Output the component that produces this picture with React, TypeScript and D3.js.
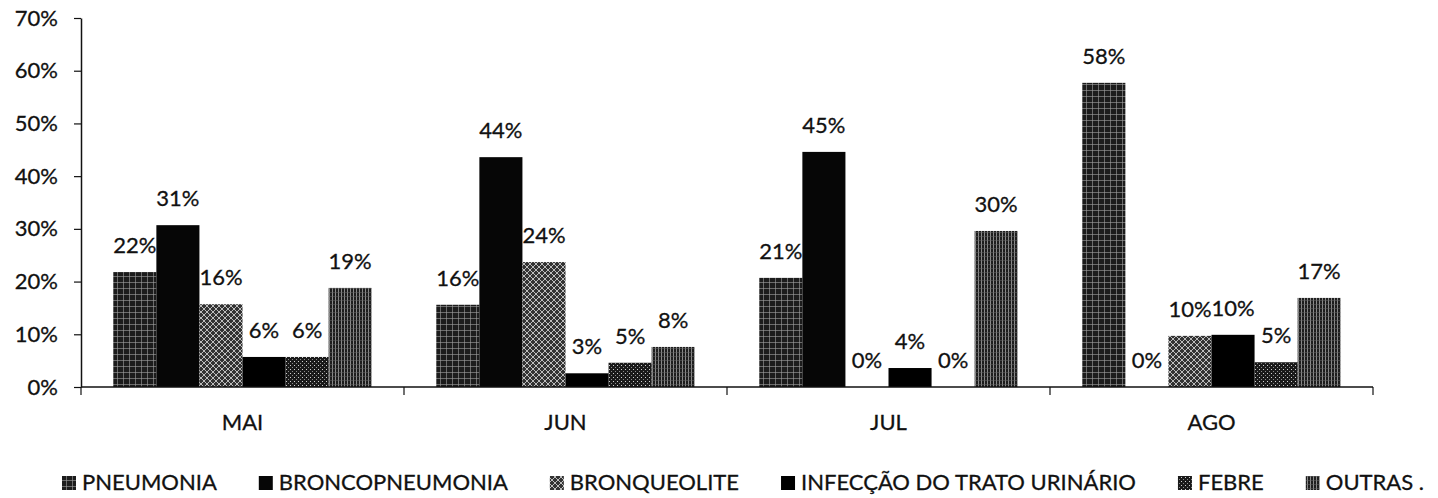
import React, { useEffect, useRef } from 'react';
import * as d3 from 'd3';

const WIDTH = 1438;
const HEIGHT = 498;
const FONT = 'Lato, "Open Sans", sans-serif';

const months = ['MAI', 'JUN', 'JUL', 'AGO'];
const seriesNames = [
  'PNEUMONIA',
  'BRONCOPNEUMONIA',
  'BRONQUEOLITE',
  'INFECÇÃO DO TRATO URINÁRIO',
  'FEBRE',
  'OUTRAS .',
];
const pneumonia = [0.218, 0.156, 0.207, 0.577];
const broncopneumonia = [0.307, 0.436, 0.446, 0];
const bronqueolite = [0.157, 0.237, 0, 0.097];
const infeccaoUrinaria = [0.057, 0.026, 0.036, 0.099];
const febre = [0.057, 0.046, 0, 0.047];
const outras = [0.188, 0.076, 0.296, 0.169];
const yTicks = [0, 0.1, 0.2, 0.3, 0.4, 0.5, 0.6, 0.7];

const seriesValues = [pneumonia, broncopneumonia, bronqueolite, infeccaoUrinaria, febre, outras];

export default function App() {
  const svgRef = useRef<SVGSVGElement | null>(null);

  useEffect(() => {
    document.body.style.margin = '0';

    const draw = () => {
      if (!svgRef.current) return;
      const svg = d3.select(svgRef.current);
      svg.selectAll('*').remove();

      const left = 81;
      const right = 1373;
      const top = 18;
      const bottom = 387;

      // scales
      const x0 = d3.scaleBand<string>().domain(months).range([left, right]);
      const bw = x0.bandwidth();
      const x1 = d3
        .scaleBand<number>()
        .domain(d3.range(seriesNames.length))
        .range([bw * 0.1, bw * 0.9]);
      const y = d3.scaleLinear().domain([0, 0.7]).range([bottom, top]);
      const pct = d3.format('.0%');

      // patterns for the scanned grey fills
      const defs = svg.append('defs');
      const pat = (id: string, w: number, h: number) =>
        defs.append('pattern').attr('id', id).attr('patternUnits', 'userSpaceOnUse').attr('width', w).attr('height', h);

      const p0 = pat('p0', 6, 6);
      p0.append('rect').attr('width', 6).attr('height', 6).attr('fill', '#1c1c1c');
      p0.append('rect').attr('width', 6).attr('height', 1).attr('fill', '#a0a0a0').attr('opacity', 0.6);
      p0.append('rect').attr('width', 1).attr('height', 6).attr('fill', '#a0a0a0').attr('opacity', 0.6);

      const p1 = pat('p1', 4, 4);
      p1.append('rect').attr('width', 4).attr('height', 4).attr('fill', '#060606');

      const p2 = pat('p2', 6, 6);
      p2.append('rect').attr('width', 6).attr('height', 6).attr('fill', '#333');
      p2.append('path').attr('d', 'M0,0L6,6M6,0L0,6').attr('stroke', '#bdbdbd').attr('stroke-width', 1);

      const p3 = pat('p3', 4, 4);
      p3.append('rect').attr('width', 4).attr('height', 4).attr('fill', '#000');

      const p4 = pat('p4', 4, 4);
      p4.append('rect').attr('width', 4).attr('height', 4).attr('fill', '#1a1a1a');
      p4.append('rect').attr('x', 1).attr('y', 1).attr('width', 1).attr('height', 1).attr('fill', '#d0d0d0');
      p4.append('rect').attr('x', 3).attr('y', 3).attr('width', 1).attr('height', 1).attr('fill', '#8a8a8a');

      const p5 = pat('p5', 3, 4);
      p5.append('rect').attr('width', 3).attr('height', 4).attr('fill', '#1e1e1e');
      p5.append('rect').attr('x', 2).attr('width', 1).attr('height', 4).attr('fill', '#8a8a8a');
      p5.append('rect').attr('width', 3).attr('height', 1).attr('fill', '#666').attr('opacity', 0.5);

      const fills = seriesNames.map((_, i) => `url(#p${i})`);

      // bars
      const groups = svg
        .append('g')
        .selectAll('g')
        .data(months)
        .join('g')
        .attr('transform', (m) => `translate(${x0(m)},0)`);

      groups
        .selectAll('rect')
        .data((_, mi) => seriesValues.map((vals, si) => ({ si, v: vals[mi] })))
        .join('rect')
        .attr('x', (d) => x1(d.si)!)
        .attr('width', x1.bandwidth())
        .attr('y', (d) => y(d.v))
        .attr('height', (d) => bottom - y(d.v))
        .attr('fill', (d) => fills[d.si]);

      groups
        .selectAll('text')
        .data((_, mi) => seriesValues.map((vals, si) => ({ si, v: vals[mi] })))
        .join('text')
        .attr('x', (d) => x1(d.si)! + x1.bandwidth() / 2)
        .attr('y', (d) => y(d.v) - 19)
        .attr('text-anchor', 'middle')
        .attr('font-family', FONT)
        .attr('font-size', 22)
        .attr('fill', '#111')
        .attr('stroke', '#111')
        .attr('stroke-width', 0.3)
        .text((d) => pct(d.v));

      // y axis
      const yAxis = svg
        .append('g')
        .attr('transform', `translate(${left},0)`)
        .call(
          d3
            .axisLeft(y)
            .tickValues(yTicks)
            .tickFormat((d) => pct(d as number))
            .tickSize(7)
            .tickSizeOuter(0)
            .tickPadding(16),
        );
      yAxis.select('.domain').attr('stroke', '#111').attr('stroke-width', 1.5);
      yAxis.selectAll('line').attr('stroke', '#111').attr('stroke-width', 1.2);
      yAxis
        .selectAll('text')
        .attr('font-family', FONT)
        .attr('font-size', 22)
        .attr('fill', '#111')
        .attr('stroke', '#111')
        .attr('stroke-width', 0.3);

      // x axis
      const xAxis = svg.append('g');
      xAxis
        .append('line')
        .attr('x1', left)
        .attr('x2', right)
        .attr('y1', bottom)
        .attr('y2', bottom)
        .attr('stroke', '#111')
        .attr('stroke-width', 1.5);
      const bounds = [...months.map((m) => x0(m)!), right];
      xAxis
        .selectAll('line.tick')
        .data(bounds)
        .join('line')
        .attr('class', 'tick')
        .attr('x1', (d) => d)
        .attr('x2', (d) => d)
        .attr('y1', bottom)
        .attr('y2', bottom + 8)
        .attr('stroke', '#111')
        .attr('stroke-width', 1.2);
      xAxis
        .selectAll('text')
        .data(months)
        .join('text')
        .attr('x', (m) => x0(m)! + bw / 2)
        .attr('y', 430)
        .attr('text-anchor', 'middle')
        .attr('font-family', FONT)
        .attr('font-size', 22)
        .attr('fill', '#111')
        .attr('stroke', '#111')
        .attr('stroke-width', 0.3)
        .text((m) => m);

      // legend
      const legend = svg.append('g');
      let lx = 62;
      seriesNames.forEach((name, i) => {
        const item = legend.append('g');
        item
          .append('rect')
          .attr('x', lx)
          .attr('y', 476)
          .attr('width', 14)
          .attr('height', 14)
          .attr('fill', fills[i]);
        const t = item
          .append('text')
          .attr('x', lx + 20)
          .attr('y', 490)
          .attr('font-family', FONT)
          .attr('font-size', 22)
          .attr('fill', '#111')
          .attr('stroke', '#111')
          .attr('stroke-width', 0.3)
          .text(name);
        const tw = (t.node() as SVGTextElement).getComputedTextLength();
        lx += 20 + tw + 42;
      });
    };

    draw();
    document.fonts?.ready.then(draw);
  }, []);

  return (
    <svg
      ref={svgRef}
      width={WIDTH}
      height={HEIGHT}
      style={{ display: 'block', background: '#fff' }}
      aria-label='Grouped bar chart of diagnoses by month'
    />
  );
}
